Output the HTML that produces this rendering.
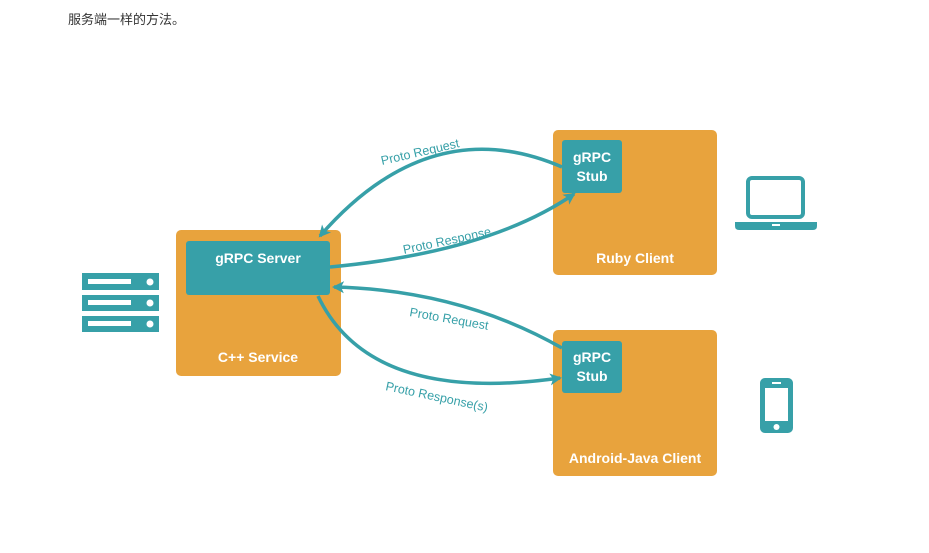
<!DOCTYPE html>
<html><head><meta charset="utf-8"><style>
body{margin:0;background:#fff;width:929px;height:553px;overflow:hidden}
.t{position:absolute;left:68px;top:9px;font:13px "Liberation Sans","Noto Sans CJK SC",sans-serif;color:#333}
svg{position:absolute;left:0;top:0}
text{font-family:"Liberation Sans",sans-serif}
</style></head><body>
<div class="t">服务端一样的方法。</div>
<svg width="929" height="553">
<defs>
<marker id="b" markerWidth="14" markerHeight="14" refX="10" refY="7" orient="auto" markerUnits="userSpaceOnUse"><path d="M0,1 L12,7 L0,13 L3,7z" fill="#37A0A8"/></marker></defs>
<rect x="176" y="230" width="165" height="146" rx="5" fill="#E8A33D"/>
<rect x="186" y="241" width="144" height="54" rx="3" fill="#37A0A8"/>
<text x="258" y="263" fill="#fff" font-size="14" font-weight="bold" text-anchor="middle">gRPC Server</text>
<text x="258" y="362" fill="#fff" font-size="14" font-weight="bold" text-anchor="middle">C++ Service</text>
<rect x="553" y="130" width="164" height="145" rx="5" fill="#E8A33D"/>
<rect x="562" y="140" width="60" height="53" rx="3" fill="#37A0A8"/>
<text x="592" y="162" fill="#fff" font-size="14" font-weight="bold" text-anchor="middle">gRPC</text>
<text x="592" y="181" fill="#fff" font-size="14" font-weight="bold" text-anchor="middle">Stub</text>
<text x="635" y="263" fill="#fff" font-size="14" font-weight="bold" text-anchor="middle">Ruby Client</text>
<rect x="553" y="330" width="164" height="146" rx="5" fill="#E8A33D"/>
<rect x="562" y="341" width="60" height="52" rx="3" fill="#37A0A8"/>
<text x="592" y="362" fill="#fff" font-size="14" font-weight="bold" text-anchor="middle">gRPC</text>
<text x="592" y="381" fill="#fff" font-size="14" font-weight="bold" text-anchor="middle">Stub</text>
<text x="635" y="463" fill="#fff" font-size="14" font-weight="bold" text-anchor="middle">Android-Java Client</text>
<g fill="none" stroke="#37A0A8" stroke-width="3.5">
<path d="M562,167 Q430,110 320,236" marker-end="url(#b)"/>
<path d="M330,267 Q490,252 574,194" marker-end="url(#b)"/>
<path d="M562,348 Q460,290 334,287" marker-end="url(#b)"/>
<path d="M318,296 Q370,405 560,378" marker-end="url(#b)"/>
</g>
<g fill="#37A0A8" font-size="12.5">
<text transform="translate(382,165) rotate(-13)">Proto Request</text>
<text transform="translate(404,254) rotate(-12)">Proto Response</text>
<text transform="translate(409,316) rotate(10)">Proto Request</text>
<text transform="translate(385,390) rotate(12)">Proto Response(s)</text>
</g>
<g fill="#37A0A8">
<rect x="82" y="273" width="77" height="17"/><rect x="82" y="295" width="77" height="16"/><rect x="82" y="316" width="77" height="16"/>
</g>
<g fill="#fff">
<rect x="88" y="279" width="43" height="5"/><rect x="88" y="300" width="43" height="5"/><rect x="88" y="321" width="43" height="5"/>
<circle cx="150" cy="282" r="3.5"/><circle cx="150" cy="303" r="3.5"/><circle cx="150" cy="324" r="3.5"/>
</g>
<rect x="748" y="178" width="55" height="39" rx="4" fill="none" stroke="#37A0A8" stroke-width="4"/>
<path d="M735,222 H817 V226 Q817,230 813,230 H739 Q735,230 735,226Z" fill="#37A0A8"/>
<rect x="772" y="224" width="8" height="2" fill="#fff"/>
<rect x="760" y="378" width="33" height="55" rx="5" fill="#37A0A8"/>
<rect x="765" y="388" width="23" height="33" fill="#fff"/>
<rect x="772" y="382" width="9" height="2" fill="#fff"/>
<circle cx="776.5" cy="427" r="3" fill="#fff"/>
</svg>
</body></html>
